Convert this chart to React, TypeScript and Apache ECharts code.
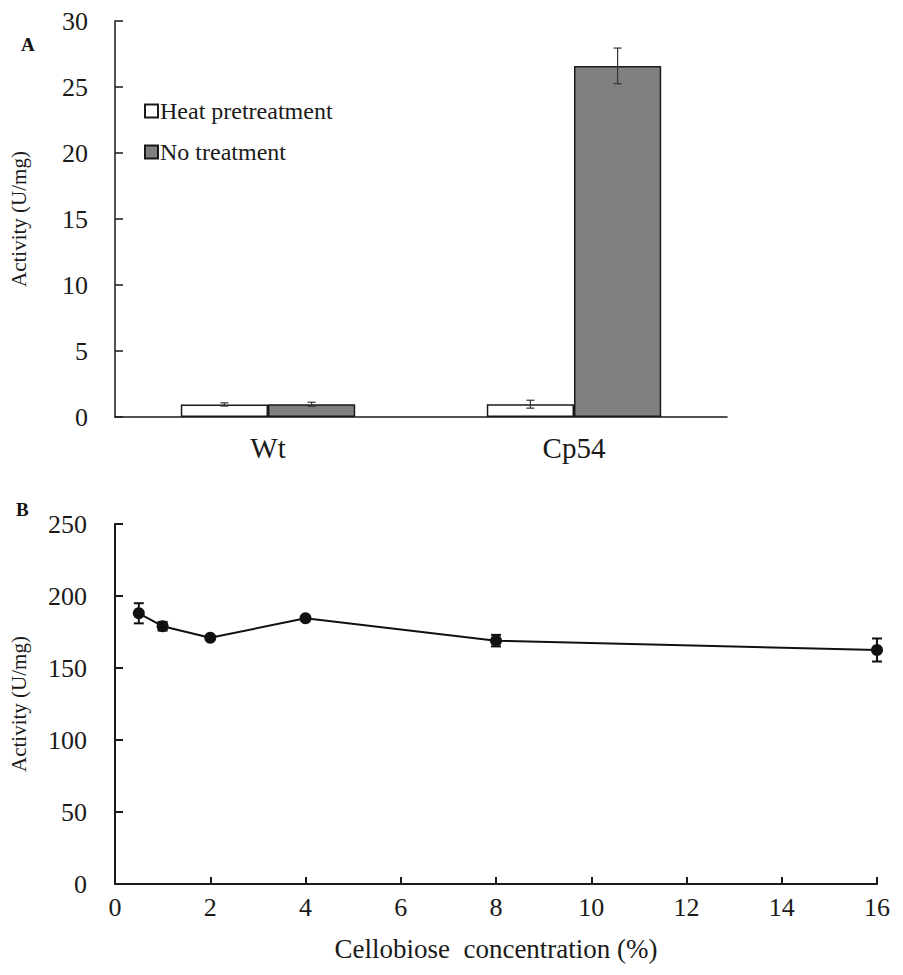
import React, { useEffect, useRef } from "react";
import * as echarts from "echarts";

const groups = ["Wt", "Cp54"];
const heatValues = [0.95, 0.97];
const heatErrors = [0.12, 0.3];
const noTreatValues = [0.97, 26.6];
const noTreatErrors = [0.15, 1.35];

const concentrations = [0.5, 1, 2, 4, 8, 16];
const activityB = [188, 179, 171, 184.5, 169, 162.5];
const errorB = [7, 3, 1.5, 1.5, 4, 8];

const FONT = "Liberation Serif";
const INK = "#1a1a1a";

export default function App() {
  const ref = useRef<HTMLDivElement>(null);
  useEffect(() => {
    if (!ref.current) return;
    const chart = echarts.init(ref.current, undefined, { renderer: "svg" });
    const catGap = 0.43;
    const makeBarErr = (vals: number[], errs: number[], side: number) => ({
      type: "custom",
      xAxisIndex: 0,
      yAxisIndex: 0,
      z: 10,
      data: vals.map((v, i) => [i, v - errs[i], v + errs[i]]),
      renderItem: (params: any, api: any) => {
        const band = api.size([1, 0])[0];
        const off = side * band * (1 - catGap) / 4;
        const lo = api.coord([api.value(0), api.value(1)]);
        const hi = api.coord([api.value(0), api.value(2)]);
        const x = lo[0] + off;
        const cw = 4;
        const st = { stroke: "#333", lineWidth: 1.2 };
        return {
          type: "group",
          children: [
            { type: "line", shape: { x1: x, y1: lo[1], x2: x, y2: hi[1] }, style: st },
            { type: "line", shape: { x1: x - cw, y1: lo[1], x2: x + cw, y2: lo[1] }, style: st },
            { type: "line", shape: { x1: x - cw, y1: hi[1], x2: x + cw, y2: hi[1] }, style: st },
          ],
        };
      },
    });
    const option: any = {
      animation: false,
      textStyle: { fontFamily: FONT },
      grid: [
        { left: 115, right: 176, top: 21, height: 396 },
        { left: 113, right: 26, top: 524, height: 360 },
      ],
      legend: {
        orient: "vertical",
        left: 139,
        top: 94,
        itemWidth: 13,
        itemHeight: 13,
        itemGap: 17,
        icon: "rect",
        textStyle: { fontFamily: FONT, fontSize: 24, color: INK, padding: [0, 0, 0, -3] },
        data: ["Heat pretreatment", "No treatment"],
      },
      xAxis: [
        {
          type: "category",
          gridIndex: 0,
          data: groups,
          axisLine: { lineStyle: { color: INK, width: 1.5 } },
          axisTick: { show: false },
          axisLabel: { fontFamily: FONT, fontSize: 29, color: INK, margin: 16 },
        },
        {
          type: "value",
          gridIndex: 1,
          min: 0,
          max: 16,
          interval: 2,
          name: "Cellobiose  concentration (%)",
          nameLocation: "middle",
          nameGap: 51,
          nameTextStyle: { fontFamily: FONT, fontSize: 27, color: INK },
          splitLine: { show: false },
          axisLine: { lineStyle: { color: INK, width: 2 } },
          axisTick: { inside: true, length: 7, lineStyle: { color: INK, width: 2 } },
          axisLabel: { fontFamily: FONT, fontSize: 26, color: INK, margin: 10 },
        },
      ],
      yAxis: [
        {
          type: "value",
          gridIndex: 0,
          min: 0,
          max: 30,
          interval: 5,
          name: "Activity (U/mg)",
          nameLocation: "middle",
          nameGap: 86,
          nameTextStyle: { fontFamily: FONT, fontSize: 21, color: INK },
          splitLine: { show: false },
          axisLine: { show: true, lineStyle: { color: INK, width: 1.5 } },
          axisTick: { show: true, inside: true, length: 8, lineStyle: { color: INK, width: 1.5 } },
          axisLabel: { fontFamily: FONT, fontSize: 26, color: INK, margin: 27 },
        },
        {
          type: "value",
          gridIndex: 1,
          min: 0,
          max: 250,
          interval: 50,
          name: "Activity (U/mg)",
          nameLocation: "middle",
          nameGap: 86,
          nameTextStyle: { fontFamily: FONT, fontSize: 21, color: INK },
          splitLine: { show: false },
          axisLine: { show: true, lineStyle: { color: INK, width: 2 } },
          axisTick: { show: true, inside: true, length: 8, lineStyle: { color: INK, width: 2 } },
          axisLabel: { fontFamily: FONT, fontSize: 26, color: INK, margin: 28 },
        },
      ],
      graphic: [
        { type: "text", left: 21, top: 35, style: { text: "A", font: `bold 19px ${FONT}`, fill: "#111" } },
        { type: "text", left: 16, top: 500, style: { text: "B", font: `bold 19px ${FONT}`, fill: "#111" } },
      ],
      series: [
        {
          name: "Heat pretreatment",
          type: "bar",
          xAxisIndex: 0,
          yAxisIndex: 0,
          data: heatValues,
          barGap: "0%",
          barCategoryGap: "43%",
          itemStyle: { color: "#ffffff", borderColor: INK, borderWidth: 1.5 },
        },
        {
          name: "No treatment",
          type: "bar",
          xAxisIndex: 0,
          yAxisIndex: 0,
          data: noTreatValues,
          barGap: "0%",
          barCategoryGap: "43%",
          itemStyle: { color: "#808080", borderColor: INK, borderWidth: 1.5 },
        },
        makeBarErr(heatValues, heatErrors, -1),
        makeBarErr(noTreatValues, noTreatErrors, 1),
        {
          type: "line",
          xAxisIndex: 1,
          yAxisIndex: 1,
          data: concentrations.map((c, i) => [c, activityB[i]]),
          symbol: "circle",
          symbolSize: 12,
          lineStyle: { color: "#111", width: 2 },
          itemStyle: { color: "#111" },
          z: 5,
        },
        {
          type: "custom",
          xAxisIndex: 1,
          yAxisIndex: 1,
          z: 6,
          data: concentrations.map((c, i) => [c, activityB[i] - errorB[i], activityB[i] + errorB[i]]),
          renderItem: (params: any, api: any) => {
            const lo = api.coord([api.value(0), api.value(1)]);
            const hi = api.coord([api.value(0), api.value(2)]);
            const x = lo[0];
            const cw = 5;
            const st = { stroke: "#111", lineWidth: 2 };
            return {
              type: "group",
              children: [
                { type: "line", shape: { x1: x, y1: lo[1], x2: x, y2: hi[1] }, style: st },
                { type: "line", shape: { x1: x - cw, y1: lo[1], x2: x + cw, y2: lo[1] }, style: st },
                { type: "line", shape: { x1: x - cw, y1: hi[1], x2: x + cw, y2: hi[1] }, style: st },
              ],
            };
          },
        },
      ],
    };
    chart.setOption(option);
    return () => chart.dispose();
  }, []);
  return (
    <div
      ref={ref}
      style={{ position: "absolute", left: 0, top: 0, width: 903, height: 975, background: "#fff" }}
    />
  );
}
